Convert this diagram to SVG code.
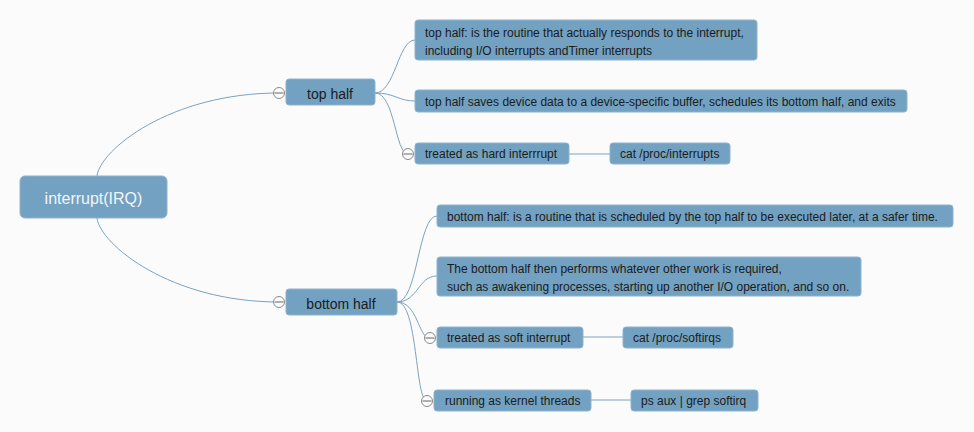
<svg xmlns="http://www.w3.org/2000/svg" width="974" height="432" viewBox="0 0 974 432">
<style>
  .bg{fill:#fbfbfc}
  .box{fill:#73a1c1;stroke:#8fb3cc;stroke-width:1}
  .t{font-family:"Liberation Sans",Arial,sans-serif;font-size:12px;fill:#1b1b1b}
  .t14{font-family:"Liberation Sans",Arial,sans-serif;font-size:14px;fill:#1b1b1b}
  .root{font-family:"Liberation Sans",Arial,sans-serif;font-size:16px;fill:#f2f5f8}
  .c{fill:none;stroke:#7aa3c2;stroke-width:1}
  .tog circle{fill:#fbfbfb;stroke:#8a8a8a;stroke-width:1}
  .tog line{stroke:#666;stroke-width:1}
</style>
<rect class="bg" x="0" y="0" width="974" height="432"/>
<g id="connectors">
  <path class="c" d="M97,176 C100,150 170,93 279,93"/>
  <path class="c" d="M97,218 C100,244 170,302 279,302"/>
  <path class="c" d="M375,93 C395,93 398,40 415,40"/>
  <path class="c" d="M375,93 C395,93 398,101 415,101"/>
  <path class="c" d="M375,93 C395,93 395,154 408,154"/>
  <path class="c" d="M569,154 L610,154"/>
  <path class="c" d="M397,302 C418,302 418,216 437,216"/>
  <path class="c" d="M397,302 C418,302 418,276 437,276"/>
  <path class="c" d="M397,302 C418,302 418,338 430,338"/>
  <path class="c" d="M397,302 C418,302 415,401 427,401"/>
  <path class="c" d="M583,337 L623,337"/>
  <path class="c" d="M591,400 L631,400"/>
</g>
<g id="root">
  <rect class="box" x="20" y="176" width="147" height="42" rx="5"/>
  <text class="root" x="93.5" y="203.5" text-anchor="middle">interrupt(IRQ)</text>
</g>
<g id="top-half">
  <rect class="box" x="286" y="79" width="89" height="26" rx="3"/>
  <text class="t14" x="330" y="99" text-anchor="middle">top half</text>
  <g class="tog"><circle cx="279" cy="93" r="5.5"/><line x1="274.5" y1="93" x2="283.5" y2="93"/></g>
</g>
<g id="top-desc1">
  <rect class="box" x="415" y="20" width="342" height="40" rx="3"/>
  <text class="t" x="425" y="37">top half: is the routine that actually responds to the interrupt,</text>
  <text class="t" x="425" y="55">including I/O interrupts andTimer interrupts</text>
</g>
<g id="top-desc2">
  <rect class="box" x="415" y="90" width="492" height="22" rx="3"/>
  <text class="t" x="425" y="106">top half saves device data to a device-specific buffer, schedules its bottom half, and exits</text>
</g>
<g id="hard-irq">
  <rect class="box" x="415" y="143" width="154" height="21" rx="3"/>
  <text class="t" x="425" y="158">treated as hard interrrupt</text>
  <g class="tog"><circle cx="408" cy="154" r="5.5"/><line x1="403.5" y1="154" x2="412.5" y2="154"/></g>
</g>
<g id="proc-interrupts">
  <rect class="box" x="610" y="143" width="120" height="21" rx="3"/>
  <text class="t" x="620" y="158">cat /proc/interrupts</text>
</g>
<g id="bottom-half">
  <rect class="box" x="286" y="289" width="111" height="26" rx="3"/>
  <text class="t14" x="341" y="309" text-anchor="middle">bottom half</text>
  <g class="tog"><circle cx="279" cy="302" r="5.5"/><line x1="274.5" y1="302" x2="283.5" y2="302"/></g>
</g>
<g id="bottom-desc1">
  <rect class="box" x="437" y="205" width="516" height="22" rx="3"/>
  <text class="t" x="447" y="221">bottom half: is a routine that is scheduled by the top half to be executed later, at a safer time.</text>
</g>
<g id="bottom-desc2">
  <rect class="box" x="437" y="257" width="424" height="39" rx="3"/>
  <text class="t" x="447" y="273">The bottom half then performs whatever other work is required,</text>
  <text class="t" x="447" y="291">such as awakening processes, starting up another I/O operation, and so on.</text>
</g>
<g id="soft-irq">
  <rect class="box" x="437" y="327" width="146" height="21" rx="3"/>
  <text class="t" x="447" y="342">treated as soft interrupt</text>
  <g class="tog"><circle cx="430" cy="338" r="5.5"/><line x1="425.5" y1="338" x2="434.5" y2="338"/></g>
</g>
<g id="proc-softirqs">
  <rect class="box" x="623" y="327" width="110" height="21" rx="3"/>
  <text class="t" x="633" y="342">cat /proc/softirqs</text>
</g>
<g id="kernel-threads">
  <rect class="box" x="434" y="390" width="157" height="21" rx="3"/>
  <text class="t" x="445" y="405">running as kernel threads</text>
  <g class="tog"><circle cx="427" cy="401" r="5.5"/><line x1="422.5" y1="401" x2="431.5" y2="401"/></g>
</g>
<g id="ps-aux">
  <rect class="box" x="631" y="390" width="127" height="21" rx="3"/>
  <text class="t" x="641" y="405">ps aux | grep softirq</text>
</g>
</svg>
